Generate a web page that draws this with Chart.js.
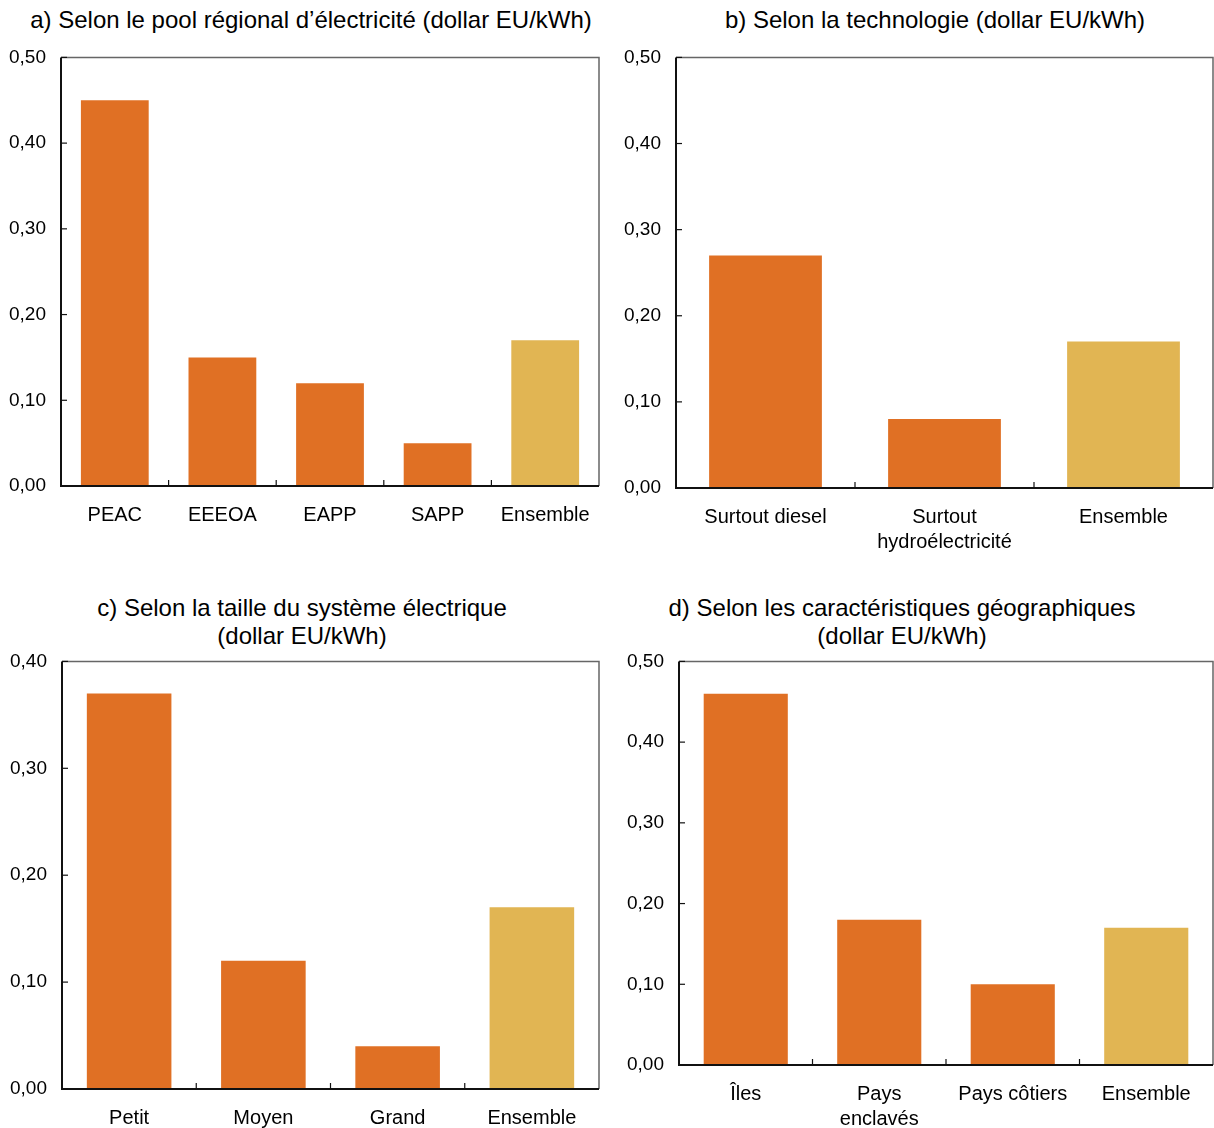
<!DOCTYPE html>
<html lang="fr">
<head>
<meta charset="utf-8">
<title>Prix de l'électricité</title>
<script src="https://cdn.jsdelivr.net/npm/chart.js@4/dist/chart.umd.min.js"></script>
<style>
    html, body { margin: 0; padding: 0; background: #fff; }
    #page { position: relative; width: 1214px; height: 1128px; overflow: hidden;
            font-family: "Liberation Sans", Arial, sans-serif; color: #000; }
    .title { position: absolute; width: 640px; text-align: center; font-size: 24px; line-height: 28px; white-space: nowrap; }
    .box { position: absolute; }
</style>
</head>
<body>
<div id="page">
    <div class="title" style="left:-9px; top:6px;">a) Selon le pool régional d’électricité (dollar EU/kWh)</div>
    <div class="title" style="left:615px; top:6px;">b) Selon la technologie (dollar EU/kWh)</div>
    <div class="title" style="left:-18px; top:594px;">c) Selon la taille du système électrique<br>(dollar EU/kWh)</div>
    <div class="title" style="left:582px; top:594px;">d) Selon les caractéristiques géographiques<br>(dollar EU/kWh)</div>

    <div class="box" style="left:0; top:31px; width:610px; height:529px;"><canvas id="chartA"></canvas></div>
    <div class="box" style="left:614px; top:31px; width:600px; height:529px;"><canvas id="chartB"></canvas></div>
    <div class="box" style="left:0; top:635px; width:610px; height:493px;"><canvas id="chartC"></canvas></div>
    <div class="box" style="left:614px; top:635px; width:600px; height:493px;"><canvas id="chartD"></canvas></div>
</div>
<script>
// a) by regional power pool
const poolLabels = ['PEAC', 'EEEOA', 'EAPP', 'SAPP', 'Ensemble'];
const poolValues = [0.45, 0.15, 0.12, 0.05, 0.17];

// b) by technology
const techLabels = ['Surtout diesel', ['Surtout', 'hydroélectricité'], 'Ensemble'];
const techValues = [0.27, 0.08, 0.17];

// c) by system size
const sizeLabels = ['Petit', 'Moyen', 'Grand', 'Ensemble'];
const sizeValues = [0.37, 0.12, 0.04, 0.17];

// d) by geography
const geoLabels = ['Îles', ['Pays', 'enclavés'], 'Pays côtiers', 'Ensemble'];
const geoValues = [0.46, 0.18, 0.10, 0.17];

const ORANGE = '#E07024';
const GOLD = '#E1B553';
const FAMILY = '"Liberation Sans", Arial, sans-serif';
const X_FONT = { family: FAMILY, size: 20, lineHeight: 1.25 };
const Y_FONT = { family: FAMILY, size: 19, lineHeight: 1.2 };

/**
 * Frame around the plot area plus small inward ticks
 */
const frameTicks = {
    id: 'frameTicks',
    afterDraw(chart) {
        const { ctx, chartArea: a, scales } = chart;
        ctx.save();
        ctx.lineCap = 'butt';

        // top and right edges, lighter
        ctx.strokeStyle = '#666';
        ctx.lineWidth = 1.5;
        ctx.beginPath();
        ctx.moveTo(a.left, a.top);
        ctx.lineTo(a.right, a.top);
        ctx.lineTo(a.right, a.bottom);
        ctx.stroke();

        // axis lines, darker
        ctx.strokeStyle = '#111';
        ctx.lineWidth = 2;
        ctx.beginPath();
        ctx.moveTo(a.left, a.top);
        ctx.lineTo(a.left, a.bottom);
        ctx.lineTo(a.right, a.bottom);
        ctx.stroke();

        // y ticks pointing inward
        ctx.lineWidth = 1.2;
        const y = scales.y;
        y.ticks.forEach((t, i) => {
            const py = y.getPixelForTick(i);
            ctx.beginPath();
            ctx.moveTo(a.left, py);
            ctx.lineTo(a.left + 6, py);
            ctx.stroke();
        });

        // x ticks between categories, pointing up
        const x = scales.x;
        for (let i = 1; i < x.ticks.length; i++) {
            const px = (x.getPixelForTick(i - 1) + x.getPixelForTick(i)) / 2;
            ctx.beginPath();
            ctx.moveTo(px, a.bottom);
            ctx.lineTo(px, a.bottom - 6);
            ctx.stroke();
        }
        ctx.restore();
    }
};

function makeChart(id, labels, values, opts) {
    const colors = labels.map(l => l === 'Ensemble' ? GOLD : ORANGE);
    return new Chart(document.getElementById(id), {
        type: 'bar',
        data: {
            labels: labels,
            datasets: [{
                data: values,
                backgroundColor: colors,
                borderWidth: 0,
                barPercentage: 0.63,
                categoryPercentage: 1.0,
            }],
        },
        options: {
            responsive: true,
            maintainAspectRatio: false,
            animation: false,
            layout: { padding: { top: 7, right: opts.padRight, left: 0, bottom: 0 } },
            plugins: {
                legend: { display: false },
                title: { display: false },
                tooltip: { enabled: false },
            },
            scales: {
                x: {
                    grid: { display: false, drawTicks: false },
                    border: { display: false },
                    ticks: { color: '#000', font: X_FONT, padding: 17, maxRotation: 0, autoSkip: false },
                    afterFit(scale) { scale.height = opts.xHeight; },
                },
                y: {
                    min: 0,
                    max: opts.max,
                    grid: { display: false, drawTicks: false },
                    border: { display: false },
                    ticks: {
                        stepSize: 0.1,
                        color: '#000',
                        font: Y_FONT,
                        padding: 15,
                        callback: v => v.toFixed(2).replace('.', ','),
                    },
                    afterFit(scale) { scale.width = opts.yWidth; },
                },
            },
        },
        plugins: [frameTicks],
    });
}

makeChart('chartA', poolLabels, poolValues, { max: 0.5, yWidth: 61, xHeight: 74, padRight: 11 });
makeChart('chartB', techLabels, techValues, { max: 0.5, yWidth: 62, xHeight: 72, padRight: 1 });
makeChart('chartC', sizeLabels, sizeValues, { max: 0.4, yWidth: 62, xHeight: 39, padRight: 11 });
makeChart('chartD', geoLabels, geoValues, { max: 0.5, yWidth: 65, xHeight: 63, padRight: 1 });
</script>
</body>
</html>
